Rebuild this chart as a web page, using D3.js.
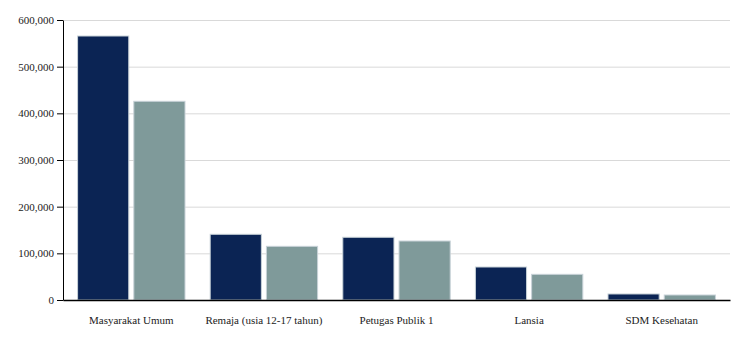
<!DOCTYPE html>
<html>
<head>
<meta charset="utf-8">
<script src="https://cdn.jsdelivr.net/npm/d3@7"></script>
<style>
	body { margin: 0; background: #fff; }
	text { font-family: "Liberation Serif", "Times New Roman", serif; }
</style>
</head>
<body>
<div id="chart"></div>
<script>
const width = 750;
const height = 337;
const categories = ["Masyarakat Umum", "Remaja (usia 12-17 tahun)", "Petugas Publik 1", "Lansia", "SDM Kesehatan"];
const seriesNames = ["dosis1", "dosis2"];
const dosis1 = [565700, 140800, 134400, 70700, 12900];
const dosis2 = [425800, 115000, 126400, 55000, 10700];
const yTicks = [0, 100000, 200000, 300000, 400000, 500000, 600000];
const colors = ["#0b2454", "#7f9a9a"];

const margin = { top: 20, right: 20, bottom: 37, left: 63 };

const svg = d3
	.select("#chart")
	.append("svg")
	.attr("width", width)
	.attr("height", height);

const x = d3
	.scaleBand()
	.domain(categories)
	.range([margin.left, width - margin.right])
	.paddingInner(0.19)
	.paddingOuter(0.11);

const xInner = d3
	.scaleBand()
	.domain(seriesNames)
	.range([0, x.bandwidth()])
	.paddingInner(0.09)
	.paddingOuter(0);

const y = d3
	.scaleLinear()
	.domain([0, 600000])
	.range([height - margin.bottom, margin.top]);

// gridlines
svg.append("g")
	.selectAll("line")
	.data(yTicks)
	.enter()
	.append("line")
	.attr("x1", margin.left)
	.attr("x2", width - margin.right)
	.attr("y1", (d) => y(d) + 0.5)
	.attr("y2", (d) => y(d) + 0.5)
	.attr("stroke", "#d9d9d9")
	.attr("stroke-width", 1);

const rows = categories.map((c, i) => ({ name: c, values: [dosis1[i], dosis2[i]] }));

const groups = svg
	.append("g")
	.selectAll("g")
	.data(rows)
	.enter()
	.append("g")
	.attr("transform", (d) => `translate(${x(d.name)},0)`);

groups
	.selectAll("rect")
	.data((d) => d.values.map((v, i) => ({ key: seriesNames[i], value: v, i: i })))
	.enter()
	.append("rect")
	.attr("x", (d) => xInner(d.key))
	.attr("width", xInner.bandwidth())
	.attr("y", (d) => y(d.value))
	.attr("height", (d) => y(0) - y(d.value))
	.attr("fill", (d) => colors[d.i])
	.attr("stroke", "#c8d2d8")
	.attr("stroke-width", 1);

// y axis
const yAxis = svg
	.append("g")
	.attr("transform", `translate(${margin.left},0)`)
	.call(d3.axisLeft(y).tickValues(yTicks).tickFormat(d3.format(",")).tickSize(6).tickSizeOuter(0));
yAxis.select(".domain").attr("stroke", "#000");
yAxis.selectAll("text").attr("font-size", "11px").attr("font-family", "Liberation Serif, serif").attr("fill", "#222");

// x axis
const xAxis = svg
	.append("g")
	.attr("transform", `translate(0,${y(0)})`)
	.call(d3.axisBottom(x).tickSize(0).tickSizeOuter(0).tickPadding(16));
xAxis.select(".domain").attr("stroke", "#000").attr("stroke-width", 1.5);
xAxis.selectAll("text").attr("font-size", "11px").attr("font-family", "Liberation Serif, serif").attr("fill", "#222");
</script>
</body>
</html>
